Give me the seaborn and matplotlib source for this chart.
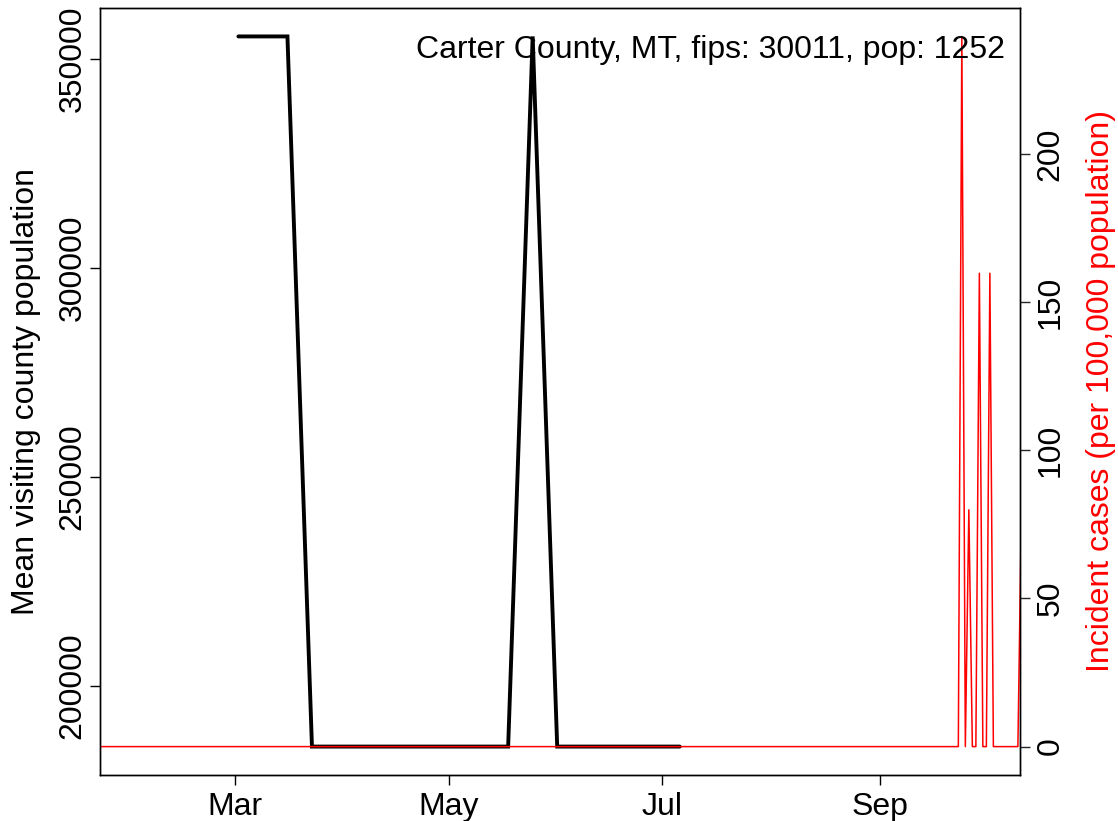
import numpy as np
import pandas as pd
import matplotlib
matplotlib.use("Agg")
import matplotlib.pyplot as plt
import seaborn as sns

# ---- data ----
visit_dates = pd.date_range("2020-03-02", "2020-07-06", freq="7D")
visit_pop = [355300, 355300, 355300, 185400, 185400, 185400, 185400, 185400,
             185400, 185400, 185400, 185400, 355300, 185400, 185400, 185400,
             185400, 185400, 185400]

case_start = "2020-01-20 12:00"
case_end = "2020-10-11 12:00"
case_peak_dates = ["2020-09-24 12:00", "2020-09-26 12:00", "2020-09-29 12:00",
                   "2020-10-02 12:00", "2020-10-11 12:00"]
case_peak_values = [239.6, 79.9, 159.7, 159.7, 79.9]

title_text = "Carter County, MT, fips: 30011, pop: 1252"
left_ticks = [200000, 250000, 300000, 350000]
right_ticks = [0, 50, 100, 150, 200]
x_tick_dates = ["2020-03-01", "2020-05-01", "2020-07-01", "2020-09-01"]
x_tick_labels = ["Mar", "May", "Jul", "Sep"]

# build tables
df_visit = pd.DataFrame({"date": visit_dates, "pop": visit_pop})
case_dates = pd.date_range(case_start, case_end, freq="D")
case_series = pd.Series(0.0, index=case_dates)
for d, v in zip(case_peak_dates, case_peak_values):
    case_series[pd.Timestamp(d)] = v
df_case = pd.DataFrame({"date": case_dates, "inc": case_series.values})

# ---- style ----
sns.set_style("ticks")
plt.rcParams["font.family"] = ["Liberation Sans", "DejaVu Sans"]
plt.rcParams["axes.linewidth"] = 1.0
FS = 23

fig = plt.figure(figsize=(11.18, 8.21), dpi=100)
ax = fig.add_axes([100 / 1118, 1 - 775 / 821, 920 / 1118, 767 / 821])

sns.lineplot(data=df_visit, x="date", y="pop", ax=ax, color="black",
             linewidth=2.8, solid_joinstyle="miter", solid_capstyle="round")
ax.set_ylim(178600, 362100)
ax.set_yticks(left_ticks)
ax.set_yticklabels([str(t) for t in left_ticks], rotation=90, va="center")
ax.set_ylabel("Mean visiting county population", fontsize=FS, labelpad=12,
              color="black")
ax.set_xlabel("")

xmin = pd.Timestamp("2020-03-01") - pd.Timedelta(days=38.5)
xmax = pd.Timestamp("2020-03-01") + pd.Timedelta(days=224.1)
ax.set_xlim(xmin, xmax)
ax.set_xticks([pd.Timestamp(d) for d in x_tick_dates])
ax.set_xticklabels(x_tick_labels)

ax.tick_params(axis="both", direction="out", length=7, width=1.0,
               labelsize=FS, color="black", labelcolor="black")
ax.tick_params(axis="y", pad=2)
ax.tick_params(axis="x", pad=5)

ax2 = ax.twinx()
sns.lineplot(data=df_case, x="date", y="inc", ax=ax2, color="#FF0000",
             linewidth=1.1)
ax2.set_ylim(-9.58, 249.2)
ax2.set_xlim(xmin, xmax)
ax2.set_yticks(right_ticks)
ax2.set_yticklabels([str(t) for t in right_ticks], rotation=90, va="center")
ax2.set_ylabel("Incident cases (per 100,000 population)", color="#FF0000",
               fontsize=FS, labelpad=15)
ax2.tick_params(axis="y", direction="out", length=7, width=1.0,
                labelsize=FS, pad=4, labelcolor="black")
ax2.set_xlabel("")

for a in (ax, ax2):
    for s in a.spines.values():
        s.set_visible(True)
        s.set_linewidth(1.0)
        s.set_color("black")

ax2.text(0.984, 0.965, title_text, transform=ax.transAxes, ha="right",
         va="top", fontsize=FS, color="black")

fig.savefig("out.png", dpi=100)
